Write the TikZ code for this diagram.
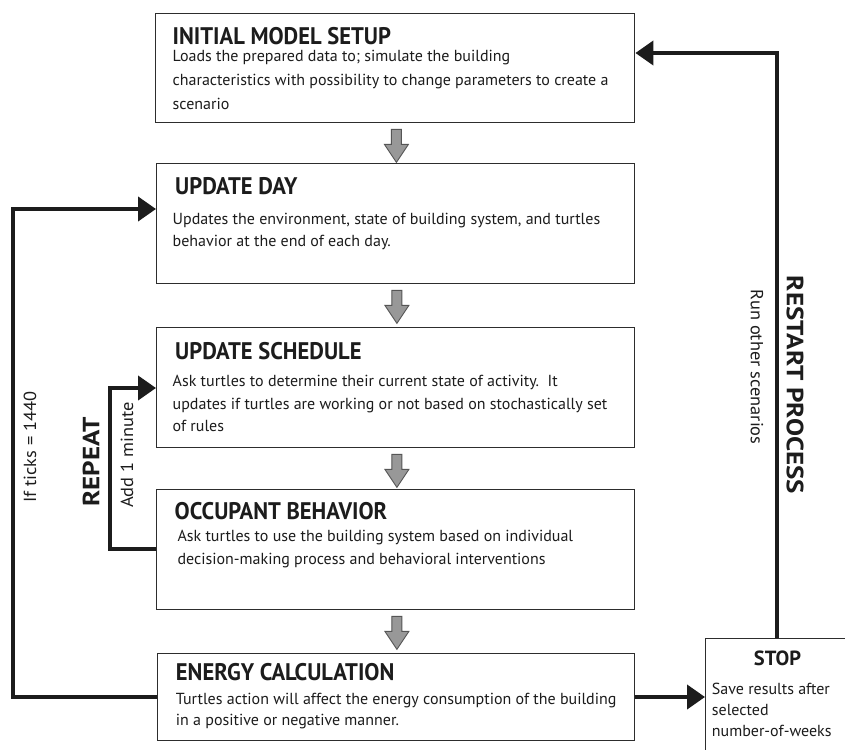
\documentclass[tikz,border=0pt]{standalone}
\usepackage{fontspec}
\setmainfont{PT Sans}
\newfontfamily\condfont[FakeStretch=0.94]{PT Sans}
\newfontfamily\widefont[FakeStretch=1.15]{PT Sans}
\newfontfamily\notefont[FakeStretch=1.05]{PT Sans}
\usetikzlibrary{arrows.meta}

\definecolor{ink}{RGB}{28,28,28}
\definecolor{boxline}{RGB}{45,45,45}
\definecolor{arrowfill}{RGB}{152,152,152}
\definecolor{arrowline}{RGB}{85,85,85}

\tikzset{
  stage/.style={draw=boxline, line width=1.4pt, fill=white, rectangle,
    anchor=north west, inner sep=0pt},
  stagetitle/.style={anchor=base west, inner sep=0pt, text=ink,
    font=\condfont\bfseries\fontsize{24}{27}\selectfont},
  stagebody/.style={anchor=base west, inner sep=0pt, text=ink},
  sidebold/.style={inner sep=0pt, text=ink,
    font=\widefont\bfseries\fontsize{23.5}{26}\selectfont},
  sidenote/.style={inner sep=0pt, text=ink,
    font=\notefont\fontsize{17.5}{20}\selectfont},
  conn/.style={draw=ink, line width=4pt,
    -{Triangle[length=18pt,width=24pt]}},
  pics/grayarrow/.style={code={
    \draw[fill=arrowfill, draw=arrowline, line width=0.9pt]
      (-5,0) -- (5,0) -- (5,15) -- (12,15) -- (0,33) -- (-12,15)
      -- (-5,15) -- cycle;
  }}
}

% body text block: first baseline at the node's base, fixed line pitch
\newcommand\bodytext[2]{\parbox[t]{470pt}{\fontsize{16}{#1}\selectfont #2}}

\begin{document}
\begin{tikzpicture}[x=1pt,y=-1pt]
\useasboundingbox (0,0) rectangle (845,749);
\clip (0,0) rectangle (845,749);
\fill[white] (0,0) rectangle (845,749);

% ---- process stages ----
\node[stage, minimum width=479pt, minimum height=109pt] (setup) at (155,13) {};
\node[stage, minimum width=478pt, minimum height=120pt] (day) at (156,163) {};
\node[stage, minimum width=478pt, minimum height=120pt] (sched) at (156,327) {};
\node[stage, minimum width=478pt, minimum height=120pt] (occ) at (156,489) {};
\node[stage, minimum width=477pt, minimum height=87pt] (energy) at (157,653) {};
\node[stage, minimum width=160pt, minimum height=130pt] (stop) at (705,638) {};

% ---- stage texts ----
\node[stagetitle] (setupT) at (172.5,44.3) {INITIAL MODEL SETUP};
\node[stagebody] (setupB) at (172.5,62) {\bodytext{24}{Loads the prepared data to; simulate the building\\
characteristics with possibility to change parameters to create a\\
scenario}};

\node[stagetitle] (dayT) at (175,194) {UPDATE DAY};
\node[stagebody] (dayB) at (172.5,224) {\bodytext{22.7}{Updates the environment, state of building system, and turtles\\
behavior at the end of each day.}};

\node[stagetitle] (schedT) at (175,359) {UPDATE SCHEDULE};
\node[stagebody] (schedB) at (172.5,386.7) {\bodytext{22.5}{Ask turtles to determine their current state of activity.\ \ It\\
updates if turtles are working or not based on stochastically set\\
of rules}};

\node[stagetitle] (occT) at (174.5,519.3) {OCCUPANT BEHAVIOR};
\node[stagebody] (occB) at (177.3,541.7) {\bodytext{22.6}{Ask turtles to use the building system based on individual\\
decision-making process and behavioral interventions}};

\node[stagetitle] (energyT) at (175.7,680) {ENERGY CALCULATION};
\node[stagebody] (energyB) at (175.7,704) {\bodytext{21}{Turtles action will affect the energy consumption of the building\\
in a positive or negative manner.}};

\node[anchor=base, inner sep=0pt, text=ink, font=\bfseries\fontsize{20.5}{24}\selectfont]
  (stopT) at (777.5,665) {STOP};
\node[stagebody] (stopB) at (711.7,694) {\bodytext{21.4}{Save results after\\
selected\\
number-of-weeks}};

% ---- flow arrows between stages ----
\path (setup.south) ++(1.2,6) pic {grayarrow};
\path (day.south) ++(1.2,6) pic {grayarrow};
\path (sched.south) ++(1.2,6) pic {grayarrow};
\path (occ.south) ++(1.2,6) pic {grayarrow};

% ---- loop connectors ----
\coordinate (outerTop) at (13,209);
\coordinate (outerBot) at (13,697);
\draw[conn] (outerBot -| energy.west) -- (outerBot) -- (outerTop) -- (outerTop -| day.west);

\coordinate (innerTop) at (110,388);
\coordinate (innerBot) at (110,549);
\draw[conn] (innerBot -| occ.west) -- (innerBot) -- (innerTop) -- (innerTop -| sched.west);

\coordinate (stopLevel) at (0,697);
\draw[conn] (stopLevel -| energy.east) -- (stopLevel -| stop.west);

\coordinate (restartTop) at (776.7,53);
\draw[conn] (restartTop |- stop.north) -- (restartTop) -- (restartTop -| setup.east);

% ---- loop labels ----
\node[sidenote, rotate=90] (ticks) at (30,447) {If ticks = 1440};
\node[sidebold, rotate=90] (repeat) at (91,462) {REPEAT};
\node[sidenote, rotate=90] (addmin) at (127,455) {Add 1 minute};
\node[sidebold, rotate=-90] (restart) at (795,385) {RESTART PROCESS};
\node[sidenote, rotate=-90] (runother) at (757,367) {Run other scenarios};
\end{tikzpicture}
\end{document}
